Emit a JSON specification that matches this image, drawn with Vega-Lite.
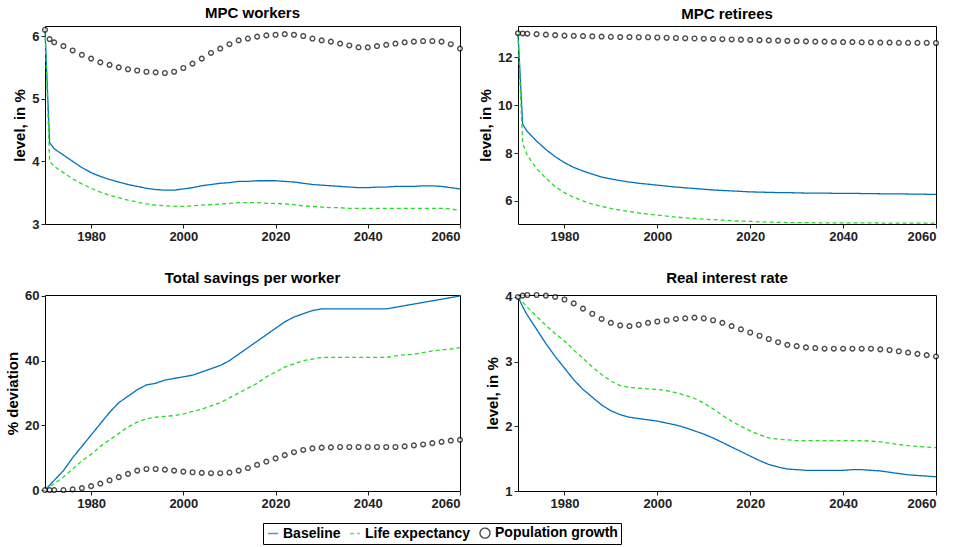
{
  "$schema": "https://vega.github.io/schema/vega-lite/v6.json",
  "config": {
    "font": "Liberation Sans",
    "view": {"stroke": "black", "strokeWidth": 1},
    "title": {"fontSize": 15, "fontWeight": "bold", "offset": 4},
    "axis": {"grid": false, "domain": false, "labelFontSize": 13, "labelFontWeight": "bold", "labelColor": "#222", "tickColor": "#222", "tickSize": 4, "titleFontSize": 15, "titleFontWeight": "bold"},
    "legend": {"orient": "none", "legendX": 218, "legendY": 497, "direction": "horizontal", "strokeColor": "black", "padding": 3, "labelFontSize": 14, "labelFontWeight": "bold", "symbolSize": 100, "symbolStrokeWidth": 1.4, "columnPadding": 6, "labelOffset": 3}
  },
  "data": {"values": [
    {"year":1970,"wb":6.1,"wl":6.1,"wp":6.1,"rb":13,"rl":13,"rp":13,"sb":0,"sl":0,"sp":0,"ib":4,"il":4,"ip":4},
    {"year":1971,"wb":4.3,"wl":4.0,"wp":5.95,"rb":9.2,"rl":8.4,"rp":12.99,"sb":1.5,"sl":1,"sp":0,"ib":3.85,"il":3.92,"ip":4.02},
    {"year":1972,"wb":4.2,"wl":3.92,"wp":5.9,"rb":8.9,"rl":7.9,"rp":12.98,"sb":3,"sl":2,"sp":0,"ib":3.72,"il":3.84,"ip":4.03},
    {"year":1974,"wb":4.1,"wl":3.82,"wp":5.84,"rb":8.5,"rl":7.35,"rp":12.96,"sb":6,"sl":4,"sp":0,"ib":3.5,"il":3.7,"ip":4.03},
    {"year":1976,"wb":4.0,"wl":3.72,"wp":5.77,"rb":8.15,"rl":6.95,"rp":12.94,"sb":10,"sl":6.5,"sp":0.2,"ib":3.28,"il":3.56,"ip":4.02},
    {"year":1978,"wb":3.9,"wl":3.64,"wp":5.7,"rb":7.85,"rl":6.6,"rp":12.92,"sb":13.5,"sl":9,"sp":0.6,"ib":3.08,"il":3.43,"ip":4.0},
    {"year":1980,"wb":3.82,"wl":3.57,"wp":5.64,"rb":7.6,"rl":6.35,"rp":12.9,"sb":17,"sl":11,"sp":1.2,"ib":2.9,"il":3.32,"ip":3.96},
    {"year":1982,"wb":3.76,"wl":3.51,"wp":5.58,"rb":7.4,"rl":6.15,"rp":12.89,"sb":20.5,"sl":13.5,"sp":2,"ib":2.72,"il":3.18,"ip":3.9},
    {"year":1984,"wb":3.71,"wl":3.46,"wp":5.54,"rb":7.25,"rl":6.0,"rp":12.88,"sb":24,"sl":15.5,"sp":3,"ib":2.57,"il":3.05,"ip":3.82},
    {"year":1986,"wb":3.67,"wl":3.42,"wp":5.5,"rb":7.12,"rl":5.87,"rp":12.87,"sb":27,"sl":17.5,"sp":4,"ib":2.45,"il":2.92,"ip":3.74},
    {"year":1988,"wb":3.63,"wl":3.38,"wp":5.47,"rb":7.0,"rl":5.77,"rp":12.86,"sb":29,"sl":19.5,"sp":5,"ib":2.33,"il":2.8,"ip":3.66},
    {"year":1990,"wb":3.6,"wl":3.35,"wp":5.45,"rb":6.92,"rl":5.69,"rp":12.85,"sb":31,"sl":21,"sp":6,"ib":2.24,"il":2.7,"ip":3.6},
    {"year":1992,"wb":3.57,"wl":3.32,"wp":5.43,"rb":6.85,"rl":5.62,"rp":12.84,"sb":32.5,"sl":22,"sp":6.5,"ib":2.18,"il":2.63,"ip":3.56},
    {"year":1994,"wb":3.55,"wl":3.3,"wp":5.42,"rb":6.79,"rl":5.56,"rp":12.84,"sb":33,"sl":22.5,"sp":6.5,"ib":2.14,"il":2.6,"ip":3.55},
    {"year":1996,"wb":3.54,"wl":3.29,"wp":5.41,"rb":6.74,"rl":5.5,"rp":12.83,"sb":34,"sl":22.8,"sp":6.3,"ib":2.12,"il":2.59,"ip":3.57},
    {"year":1998,"wb":3.54,"wl":3.28,"wp":5.43,"rb":6.7,"rl":5.45,"rp":12.83,"sb":34.5,"sl":23,"sp":6,"ib":2.1,"il":2.58,"ip":3.6},
    {"year":2000,"wb":3.56,"wl":3.28,"wp":5.49,"rb":6.66,"rl":5.41,"rp":12.82,"sb":35,"sl":23.5,"sp":5.7,"ib":2.08,"il":2.57,"ip":3.62},
    {"year":2002,"wb":3.58,"wl":3.29,"wp":5.56,"rb":6.62,"rl":5.37,"rp":12.81,"sb":35.5,"sl":24.3,"sp":5.5,"ib":2.05,"il":2.55,"ip":3.64},
    {"year":2004,"wb":3.61,"wl":3.3,"wp":5.64,"rb":6.58,"rl":5.33,"rp":12.8,"sb":36.5,"sl":25,"sp":5.3,"ib":2.02,"il":2.52,"ip":3.66},
    {"year":2006,"wb":3.63,"wl":3.31,"wp":5.73,"rb":6.55,"rl":5.3,"rp":12.79,"sb":37.5,"sl":26,"sp":5.2,"ib":1.98,"il":2.48,"ip":3.67},
    {"year":2008,"wb":3.65,"wl":3.32,"wp":5.8,"rb":6.52,"rl":5.27,"rp":12.78,"sb":38.5,"sl":27,"sp":5.2,"ib":1.93,"il":2.43,"ip":3.68},
    {"year":2010,"wb":3.66,"wl":3.33,"wp":5.87,"rb":6.49,"rl":5.24,"rp":12.77,"sb":40,"sl":28.5,"sp":5.4,"ib":1.88,"il":2.36,"ip":3.67},
    {"year":2012,"wb":3.68,"wl":3.34,"wp":5.93,"rb":6.46,"rl":5.22,"rp":12.76,"sb":42,"sl":30,"sp":6,"ib":1.82,"il":2.27,"ip":3.64},
    {"year":2014,"wb":3.68,"wl":3.34,"wp":5.96,"rb":6.44,"rl":5.2,"rp":12.75,"sb":44,"sl":31.5,"sp":6.8,"ib":1.75,"il":2.17,"ip":3.6},
    {"year":2016,"wb":3.69,"wl":3.34,"wp":5.99,"rb":6.42,"rl":5.18,"rp":12.74,"sb":46,"sl":33,"sp":7.8,"ib":1.68,"il":2.08,"ip":3.55},
    {"year":2018,"wb":3.69,"wl":3.33,"wp":6.01,"rb":6.4,"rl":5.16,"rp":12.73,"sb":48,"sl":35,"sp":8.8,"ib":1.61,"il":2.0,"ip":3.5},
    {"year":2020,"wb":3.69,"wl":3.33,"wp":6.02,"rb":6.38,"rl":5.15,"rp":12.72,"sb":50,"sl":36.5,"sp":9.8,"ib":1.54,"il":1.93,"ip":3.45},
    {"year":2022,"wb":3.68,"wl":3.32,"wp":6.03,"rb":6.37,"rl":5.13,"rp":12.71,"sb":52,"sl":38,"sp":10.8,"ib":1.47,"il":1.87,"ip":3.4},
    {"year":2024,"wb":3.67,"wl":3.31,"wp":6.02,"rb":6.36,"rl":5.12,"rp":12.7,"sb":53.5,"sl":39,"sp":11.7,"ib":1.41,"il":1.82,"ip":3.35},
    {"year":2026,"wb":3.65,"wl":3.29,"wp":6.0,"rb":6.35,"rl":5.11,"rp":12.69,"sb":54.5,"sl":40,"sp":12.4,"ib":1.37,"il":1.8,"ip":3.3},
    {"year":2028,"wb":3.63,"wl":3.28,"wp":5.96,"rb":6.35,"rl":5.1,"rp":12.68,"sb":55.5,"sl":40.5,"sp":12.9,"ib":1.34,"il":1.79,"ip":3.26},
    {"year":2030,"wb":3.62,"wl":3.27,"wp":5.93,"rb":6.34,"rl":5.1,"rp":12.67,"sb":56,"sl":41,"sp":13.1,"ib":1.33,"il":1.78,"ip":3.24},
    {"year":2032,"wb":3.61,"wl":3.26,"wp":5.91,"rb":6.33,"rl":5.1,"rp":12.66,"sb":56,"sl":41,"sp":13.2,"ib":1.32,"il":1.78,"ip":3.22},
    {"year":2034,"wb":3.6,"wl":3.26,"wp":5.88,"rb":6.33,"rl":5.09,"rp":12.65,"sb":56,"sl":41,"sp":13.3,"ib":1.32,"il":1.78,"ip":3.21},
    {"year":2036,"wb":3.59,"wl":3.25,"wp":5.85,"rb":6.33,"rl":5.09,"rp":12.65,"sb":56,"sl":41,"sp":13.3,"ib":1.32,"il":1.78,"ip":3.2},
    {"year":2038,"wb":3.58,"wl":3.25,"wp":5.82,"rb":6.32,"rl":5.09,"rp":12.64,"sb":56,"sl":41,"sp":13.3,"ib":1.32,"il":1.78,"ip":3.2},
    {"year":2040,"wb":3.58,"wl":3.25,"wp":5.82,"rb":6.32,"rl":5.09,"rp":12.63,"sb":56,"sl":41,"sp":13.3,"ib":1.32,"il":1.78,"ip":3.2},
    {"year":2042,"wb":3.59,"wl":3.25,"wp":5.84,"rb":6.32,"rl":5.09,"rp":12.63,"sb":56,"sl":41,"sp":13.3,"ib":1.33,"il":1.78,"ip":3.2},
    {"year":2044,"wb":3.59,"wl":3.25,"wp":5.86,"rb":6.31,"rl":5.09,"rp":12.62,"sb":56,"sl":41,"sp":13.3,"ib":1.33,"il":1.78,"ip":3.2},
    {"year":2046,"wb":3.6,"wl":3.25,"wp":5.88,"rb":6.31,"rl":5.09,"rp":12.62,"sb":56.5,"sl":41.5,"sp":13.3,"ib":1.32,"il":1.77,"ip":3.2},
    {"year":2048,"wb":3.6,"wl":3.25,"wp":5.9,"rb":6.3,"rl":5.08,"rp":12.61,"sb":57,"sl":41.8,"sp":13.5,"ib":1.31,"il":1.76,"ip":3.19},
    {"year":2050,"wb":3.6,"wl":3.25,"wp":5.91,"rb":6.3,"rl":5.08,"rp":12.61,"sb":57.5,"sl":42,"sp":13.8,"ib":1.29,"il":1.74,"ip":3.18},
    {"year":2052,"wb":3.61,"wl":3.25,"wp":5.92,"rb":6.3,"rl":5.08,"rp":12.6,"sb":58,"sl":42.5,"sp":14.1,"ib":1.27,"il":1.72,"ip":3.16},
    {"year":2054,"wb":3.61,"wl":3.25,"wp":5.92,"rb":6.29,"rl":5.08,"rp":12.6,"sb":58.5,"sl":43,"sp":14.5,"ib":1.25,"il":1.7,"ip":3.14},
    {"year":2056,"wb":3.6,"wl":3.25,"wp":5.91,"rb":6.29,"rl":5.08,"rp":12.6,"sb":59,"sl":43.3,"sp":14.9,"ib":1.24,"il":1.69,"ip":3.12},
    {"year":2058,"wb":3.58,"wl":3.24,"wp":5.87,"rb":6.28,"rl":5.08,"rp":12.6,"sb":59.5,"sl":43.6,"sp":15.3,"ib":1.23,"il":1.68,"ip":3.1},
    {"year":2060,"wb":3.56,"wl":3.22,"wp":5.8,"rb":6.28,"rl":5.08,"rp":12.59,"sb":60,"sl":44,"sp":15.5,"ib":1.22,"il":1.67,"ip":3.08}
  ]},
  "columns": 2,
  "spacing": {"row": 26, "column": 12},
  "resolve": {"scale": {"y": "independent"}},
  "concat": [
    {
      "title": "MPC workers",
      "width": 415, "height": 198,
      "transform": [
        {"fold": ["wb", "wl", "wp"], "as": ["key", "v"]},
        {"calculate": "{'wb':'Baseline','wl':'Life expectancy','wp':'Population growth'}[datum.key]", "as": "series"}
      ],
      "encoding": {
        "x": {"field": "year", "type": "quantitative", "title": null, "scale": {"domain": [1970, 2060], "nice": false}, "axis": {"values": [1980, 2000, 2020, 2040, 2060], "format": "d"}},
        "y": {"field": "v", "type": "quantitative", "title": "level, in %", "scale": {"domain": [3, 6.16], "nice": false}, "axis": {"values": [3, 4, 5, 6]}},
        "color": {"field": "series", "type": "nominal", "title": null, "scale": {"domain": ["Baseline", "Life expectancy", "Population growth"], "range": ["#0072BD", "#22DD22", "black"]}}
      },
      "layer": [
        {"transform": [{"filter": "datum.key != 'wp'"}], "mark": {"type": "line", "strokeWidth": 1.3},
         "encoding": {"strokeDash": {"field": "series", "type": "nominal", "title": null, "scale": {"domain": ["Baseline", "Life expectancy", "Population growth"], "range": [[1, 0], [4, 3], [1, 0]]}}}},
        {"transform": [{"filter": "datum.key == 'wp'"}], "mark": {"type": "point", "filled": false, "fill": "white", "size": 22, "strokeWidth": 1.4},
         "encoding": {"shape": {"field": "series", "type": "nominal", "title": null, "scale": {"domain": ["Baseline", "Life expectancy", "Population growth"], "range": ["stroke", "stroke", "circle"]}}}}
      ]
    },
    {
      "title": "MPC retirees",
      "width": 418, "height": 198,
      "transform": [
        {"fold": ["rb", "rl", "rp"], "as": ["key", "v"]},
        {"calculate": "{'rb':'Baseline','rl':'Life expectancy','rp':'Population growth'}[datum.key]", "as": "series"}
      ],
      "encoding": {
        "x": {"field": "year", "type": "quantitative", "title": null, "scale": {"domain": [1970, 2060], "nice": false}, "axis": {"values": [1980, 2000, 2020, 2040, 2060], "format": "d"}},
        "y": {"field": "v", "type": "quantitative", "title": "level, in %", "scale": {"domain": [5.04, 13.3], "nice": false}, "axis": {"values": [6, 8, 10, 12]}},
        "color": {"field": "series", "type": "nominal", "title": null}
      },
      "layer": [
        {"transform": [{"filter": "datum.key != 'rp'"}], "mark": {"type": "line", "strokeWidth": 1.3},
         "encoding": {"strokeDash": {"field": "series", "type": "nominal", "title": null}}},
        {"transform": [{"filter": "datum.key == 'rp'"}], "mark": {"type": "point", "filled": false, "fill": "white", "size": 22, "strokeWidth": 1.4},
         "encoding": {"shape": {"field": "series", "type": "nominal", "title": null}}}
      ]
    },
    {
      "title": "Total savings per worker",
      "width": 415, "height": 196,
      "transform": [
        {"fold": ["sb", "sl", "sp"], "as": ["key", "v"]},
        {"calculate": "{'sb':'Baseline','sl':'Life expectancy','sp':'Population growth'}[datum.key]", "as": "series"}
      ],
      "encoding": {
        "x": {"field": "year", "type": "quantitative", "title": null, "scale": {"domain": [1970, 2060], "nice": false}, "axis": {"values": [1980, 2000, 2020, 2040, 2060], "format": "d"}},
        "y": {"field": "v", "type": "quantitative", "title": "% deviation", "scale": {"domain": [-0.3, 60.3], "nice": false}, "axis": {"values": [0, 20, 40, 60]}},
        "color": {"field": "series", "type": "nominal", "title": null}
      },
      "layer": [
        {"transform": [{"filter": "datum.key != 'sp'"}], "mark": {"type": "line", "strokeWidth": 1.3},
         "encoding": {"strokeDash": {"field": "series", "type": "nominal", "title": null}}},
        {"transform": [{"filter": "datum.key == 'sp'"}], "mark": {"type": "point", "filled": false, "fill": "white", "size": 22, "strokeWidth": 1.4},
         "encoding": {"shape": {"field": "series", "type": "nominal", "title": null}}}
      ]
    },
    {
      "title": "Real interest rate",
      "width": 418, "height": 196,
      "transform": [
        {"fold": ["ib", "il", "ip"], "as": ["key", "v"]},
        {"calculate": "{'ib':'Baseline','il':'Life expectancy','ip':'Population growth'}[datum.key]", "as": "series"}
      ],
      "encoding": {
        "x": {"field": "year", "type": "quantitative", "title": null, "scale": {"domain": [1970, 2060], "nice": false}, "axis": {"values": [1980, 2000, 2020, 2040, 2060], "format": "d"}},
        "y": {"field": "v", "type": "quantitative", "title": "level, in %", "scale": {"domain": [1, 4.03], "nice": false}, "axis": {"values": [1, 2, 3, 4]}},
        "color": {"field": "series", "type": "nominal", "title": null}
      },
      "layer": [
        {"transform": [{"filter": "datum.key != 'ip'"}], "mark": {"type": "line", "strokeWidth": 1.3},
         "encoding": {"strokeDash": {"field": "series", "type": "nominal", "title": null}}},
        {"transform": [{"filter": "datum.key == 'ip'"}], "mark": {"type": "point", "filled": false, "fill": "white", "size": 22, "strokeWidth": 1.4},
         "encoding": {"shape": {"field": "series", "type": "nominal", "title": null}}}
      ]
    }
  ]
}
